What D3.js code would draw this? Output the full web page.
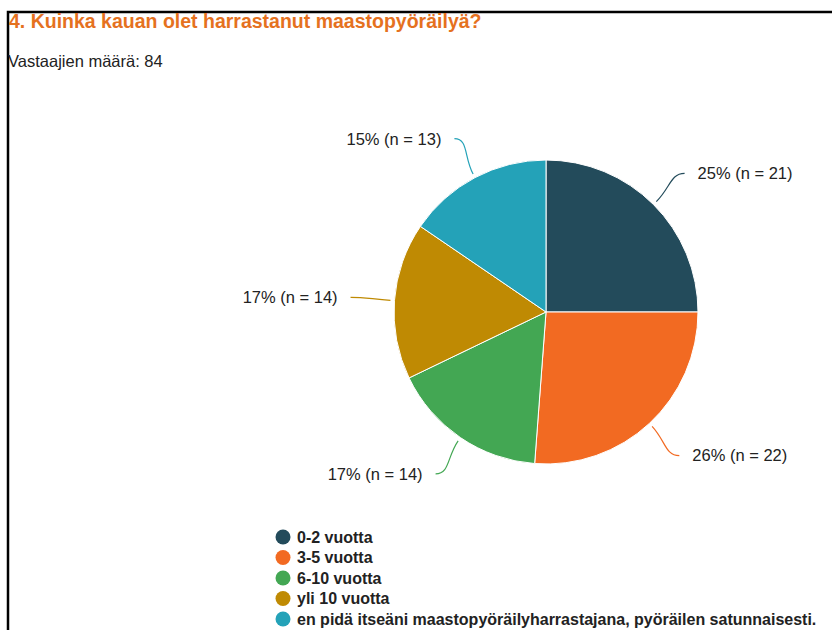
<!DOCTYPE html>
<html>
<head>
<meta charset="utf-8">
<script src="https://cdn.jsdelivr.net/npm/d3@7"></script>
<style>
body { margin: 0; background: #fff; }
text { font-family: "Liberation Sans", Arial, sans-serif; }
</style>
</head>
<body>
<div id="chartdiv"></div>
<script>
var categories = ["0-2 vuotta", "3-5 vuotta", "6-10 vuotta", "yli 10 vuotta",
  "en pidä itseäni maastopyöräilyharrastajana, pyöräilen satunnaisesti."];
var counts = [21, 22, 14, 14, 13];
var colors = ["#234b5b", "#f26a22", "#43a753", "#bf8a03", "#24a2b8"];
var title = "4. Kuinka kauan olet harrastanut maastopyöräilyä?";
var respondents = 84;

var W = 832, H = 630;
var cx = 546, cy = 312, R = 152;

var svg = d3.select("#chartdiv").append("svg")
  .attr("width", W).attr("height", H)
  .style("display", "block");

// frame
svg.append("path")
  .attr("d", "M8," + H + "V12H" + (W + 5))
  .attr("fill", "none").attr("stroke", "#000").attr("stroke-width", 2.5);

svg.append("text")
  .attr("x", 9).attr("y", 28)
  .attr("font-size", "19.5px").attr("font-weight", "bold")
  .attr("fill", "#e5711e")
  .text(title);

svg.append("text")
  .attr("x", 8).attr("y", 67)
  .attr("font-size", "16.5px").attr("fill", "#222")
  .text("Vastaajien määrä: " + respondents);

var total = d3.sum(counts);
var pie = d3.pie().sort(null).value(function(d) { return d; });
var arcs = pie(counts);
var arc = d3.arc().innerRadius(0).outerRadius(R);

var g = svg.append("g").attr("transform", "translate(" + cx + "," + cy + ")");

g.selectAll(".slice")
  .data(arcs)
  .enter().append("path")
  .attr("class", "slice")
  .attr("d", arc)
  .attr("fill", function(d, i) { return colors[i]; })
  .attr("stroke", "#fff").attr("stroke-width", 1);

function polar(a, r) { return [Math.sin(a) * r, -Math.cos(a) * r]; }

arcs.forEach(function(d, i) {
  var a = (d.startAngle + d.endAngle) / 2;
  var p0 = polar(a, R + 4);
  var p1 = polar(a, R + 24);
  var p3 = polar(a, R + 44);
  var side = p3[0] >= 0 ? 1 : -1;
  var p2 = [p3[0] - side * 14, p3[1]];
  var path = d3.path();
  path.moveTo(p0[0], p0[1]);
  path.bezierCurveTo(p1[0], p1[1], p2[0], p2[1], p3[0], p3[1]);
  g.append("path")
    .attr("d", path.toString())
    .attr("fill", "none")
    .attr("stroke", colors[i]).attr("stroke-width", 1.2);
  g.append("text")
    .attr("x", p3[0] + side * 13).attr("y", p3[1])
    .attr("dy", "0.35em")
    .attr("text-anchor", side > 0 ? "start" : "end")
    .attr("font-size", "16.5px").attr("fill", "#222")
    .text(Math.round(100 * d.value / total) + "% (n = " + d.value + ")");
});

var legend = svg.append("g").attr("transform", "translate(283,537)");
var items = legend.selectAll(".item")
  .data(categories)
  .enter().append("g")
  .attr("class", "item")
  .attr("transform", function(d, i) { return "translate(0," + (i * 20.5) + ")"; });
items.append("circle").attr("r", 7.5)
  .attr("fill", function(d, i) { return colors[i]; });
items.append("text")
  .attr("x", 14).attr("dy", "0.35em")
  .attr("font-size", "16px").attr("font-weight", "bold").attr("fill", "#222")
  .text(function(d) { return d; });
</script>
</body>
</html>
